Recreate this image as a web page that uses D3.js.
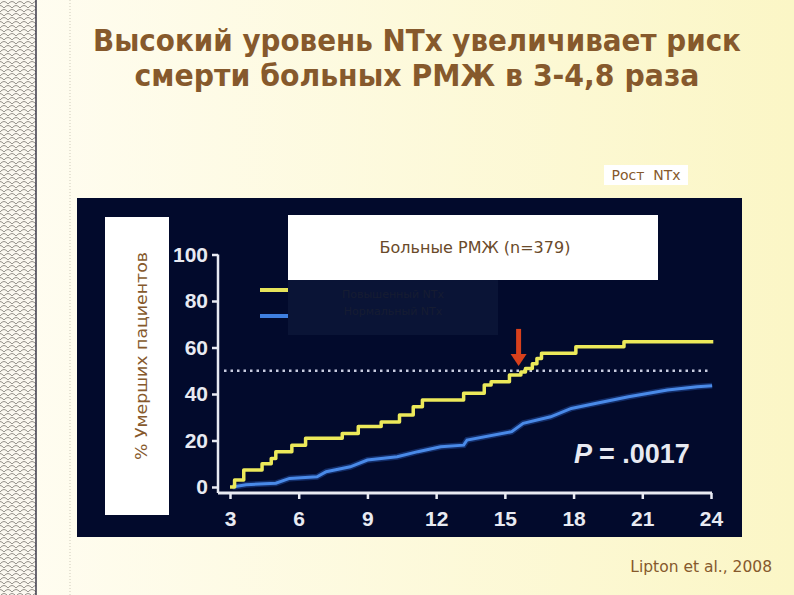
<!DOCTYPE html>
<html>
<head>
<meta charset="utf-8">
<script src="https://cdn.jsdelivr.net/npm/d3@7"></script>
<style>
  html, body { margin: 0; padding: 0; background: #fdfae0; }
  #canvas { width: 794px; height: 595px; }
</style>
</head>
<body>
<div id="canvas"></div>
<script>
// chart values
var titleLines = ['Высокий уровень NTx увеличивает риск', 'смерти больных РМЖ в 3-4,8 раза'];
var yLabel = '% Умерших пациентов';
var boxTitle = 'Больные РМЖ (n=379)';
var legendLabels = ['Повышенный NTx', 'Нормальный NTx'];
var xTicks = [3, 6, 9, 12, 15, 18, 21, 24];
var yTicks = [0, 20, 40, 60, 80, 100];

// high NTx (step curve)
var highMonths = [3.0, 3.2, 3.6, 4.4, 4.8, 5.0, 5.7, 6.3, 7.9, 8.6, 9.6, 10.4, 11.0, 11.4, 13.2, 14.1, 14.4, 15.2, 15.7, 15.9, 16.2, 16.4, 16.6, 18.1, 20.2, 24.1];
var highPct = [0, 3, 7.3, 10, 12.3, 15.2, 18, 21, 23, 26, 28, 31, 34.5, 37.4, 40.3, 43.9, 45.3, 48.2, 49.5, 51, 53, 55.3, 57.5, 60.3, 62.5, 62.5];

// normal NTx
var lowMonths = [3.1, 3.7, 5.0, 5.6, 6.8, 7.2, 8.25, 9.0, 10.3, 11.2, 12.2, 13.2, 13.35, 15.3, 15.8, 17.0, 17.9, 19.0, 20.4, 22.1, 23.4, 24.05];
var lowPct = [0, 1, 1.6, 3.7, 4.4, 6.6, 8.7, 11.6, 13, 15.2, 17.3, 18, 20.2, 23.8, 27.4, 30.2, 33.8, 36, 38.8, 41.7, 43.1, 43.6];

var halfLine = 50;
var arrowMonth = 15.6, arrowFrom = 68, arrowTo = 52;
var pText = '= .0017';
var citation = 'Lipton et al., 2008';
var badge = 'Рост  NTx';

var W = 794, H = 595;
var brown = '#86592c';

var svg = d3.select('#canvas').append('svg')
  .attr('width', W)
  .attr('height', H);

var defs = svg.append('defs');
var grad = defs.append('linearGradient').attr('id', 'bg').attr('x1', 0).attr('x2', 1).attr('y1', 0).attr('y2', 0);
grad.append('stop').attr('offset', '0%').attr('stop-color', '#fffdf2');
grad.append('stop').attr('offset', '100%').attr('stop-color', '#fbf6c6');

// scalloped border pattern
var pat = defs.append('pattern').attr('id', 'scallop')
  .attr('patternUnits', 'userSpaceOnUse').attr('width', 8).attr('height', 8);
pat.append('rect').attr('width', 8).attr('height', 8).attr('fill', '#fbf8f0');
pat.append('path').attr('d', 'M0,4 Q4,-1 8,4 M-4,8 Q0,3 4,8 M4,8 Q8,3 12,8')
  .attr('fill', 'none').attr('stroke', '#8a8680').attr('stroke-width', 0.9);

svg.append('rect').attr('width', W).attr('height', H).attr('fill', 'url(#bg)');
svg.append('rect').attr('width', 36).attr('height', H).attr('fill', 'url(#scallop)');
svg.append('line').attr('x1', 36).attr('x2', 36).attr('y1', 0).attr('y2', H)
  .attr('stroke', '#3b3a4a').attr('stroke-width', 1.5);
svg.append('line').attr('x1', 70).attr('x2', 70).attr('y1', 0).attr('y2', H)
  .attr('stroke', '#cfcbbb').attr('stroke-width', 1).attr('stroke-dasharray', '1,2');

// title
svg.selectAll('text.title').data(titleLines).enter().append('text')
  .attr('class', 'title')
  .attr('x', 417)
  .attr('y', function (d, i) { return 51 + i * 35; })
  .attr('text-anchor', 'middle')
  .attr('textLength', function (d, i) { return i === 0 ? 648 : 565; })
  .attr('lengthAdjust', 'spacingAndGlyphs')
  .attr('font-family', 'DejaVu Sans')
  .attr('font-weight', 'bold')
  .attr('font-size', 30)
  .attr('fill', brown)
  .text(function (d) { return d; });

// badge
svg.append('rect').attr('x', 604).attr('y', 165).attr('width', 84).attr('height', 20).attr('fill', '#ffffff');
svg.append('text').attr('x', 646).attr('y', 180).attr('text-anchor', 'middle')
  .attr('font-family', 'DejaVu Sans').attr('font-size', 14).attr('fill', brown)
  .attr('xml:space', 'preserve').text(badge);

// dark panel
svg.append('rect').attr('x', 77).attr('y', 198).attr('width', 665).attr('height', 339).attr('fill', '#020a2c');

// y label box
svg.append('rect').attr('x', 105).attr('y', 217).attr('width', 64).attr('height', 298).attr('fill', '#ffffff');
svg.append('text')
  .attr('transform', 'translate(147,356) rotate(-90)')
  .attr('text-anchor', 'middle')
  .attr('textLength', 208)
  .attr('lengthAdjust', 'spacingAndGlyphs')
  .attr('font-family', 'DejaVu Sans').attr('font-size', 15).attr('fill', brown)
  .text(yLabel);

// title box + legend box
svg.append('rect').attr('x', 288).attr('y', 215).attr('width', 370).attr('height', 65).attr('fill', '#ffffff');
svg.append('text').attr('x', 475).attr('y', 253).attr('text-anchor', 'middle')
  .attr('font-family', 'DejaVu Sans').attr('font-size', 16).attr('fill', '#6a4a2a')
  .text(boxTitle);
svg.append('rect').attr('x', 288).attr('y', 280).attr('width', 210).attr('height', 55).attr('fill', '#0a1436');

var x = d3.scaleLinear().domain([3, 24]).range([230, 711]);
var y = d3.scaleLinear().domain([0, 100]).range([487, 254.5]);

var axisFont = '"Liberation Sans Narrow", "Liberation Sans", Arial, sans-serif';
var xAxisY = 493, yAxisX = 218;

var gx = svg.append('g').attr('transform', 'translate(0,' + xAxisY + ')')
  .call(d3.axisBottom(x).tickValues(xTicks).tickSize(6).tickSizeOuter(0).tickPadding(12));
var gy = svg.append('g').attr('transform', 'translate(' + yAxisX + ',0)')
  .call(d3.axisLeft(y).tickValues(yTicks).tickSize(6).tickSizeOuter(0).tickPadding(4));
[gx, gy].forEach(function (g) {
  g.select('.domain').remove();
  g.selectAll('.tick line').attr('stroke', '#e8eaf2').attr('stroke-width', 2.5);
  g.selectAll('.tick text').attr('fill', '#e8eaf2').attr('font-family', axisFont)
    .attr('font-weight', 'bold').attr('font-size', 21);
});

// axis lines
svg.append('line').attr('x1', yAxisX).attr('x2', yAxisX).attr('y1', y(100)).attr('y2', xAxisY)
  .attr('stroke', '#e8eaf2').attr('stroke-width', 2.5);
svg.append('line').attr('x1', yAxisX).attr('x2', x(24) + 1).attr('y1', xAxisY).attr('y2', xAxisY)
  .attr('stroke', '#e8eaf2').attr('stroke-width', 3);

// 50% dotted reference
svg.append('line').attr('x1', yAxisX + 6).attr('x2', x(24)).attr('y1', y(halfLine)).attr('y2', y(halfLine))
  .attr('stroke', '#c8cce0').attr('stroke-width', 2.5).attr('stroke-dasharray', '2.5,4');

// legend lines
var legColors = ['#e6e35a', '#3f7fe0'];
svg.selectAll('line.leg').data(legendLabels).enter().append('line')
  .attr('class', 'leg')
  .attr('x1', 260).attr('x2', 288)
  .attr('y1', function (d, i) { return 290 + i * 26; })
  .attr('y2', function (d, i) { return 290 + i * 26; })
  .attr('stroke', function (d, i) { return legColors[i]; })
  .attr('stroke-width', 4);
svg.selectAll('text.leg').data(legendLabels).enter().append('text')
  .attr('class', 'leg')
  .attr('x', 393).attr('y', function (d, i) { return 298 + i * 17; })
  .attr('text-anchor', 'middle')
  .attr('font-family', 'DejaVu Sans').attr('font-size', 11)
  .attr('fill', '#161c32')
  .text(function (d) { return d; });

// curves
var lowData = lowMonths.map(function (m, i) { return [m, lowPct[i]]; });
var highData = highMonths.map(function (m, i) { return [m, highPct[i]]; });

var lowLine = d3.line().x(function (d) { return x(d[0]); }).y(function (d) { return y(d[1]); });
var highLine = d3.line().curve(d3.curveStepAfter)
  .x(function (d) { return x(d[0]); }).y(function (d) { return y(d[1]); });

svg.append('path').attr('d', lowLine(lowData)).attr('fill', 'none')
  .attr('stroke', '#2a5fc0').attr('stroke-width', 6).attr('stroke-opacity', 0.4);
svg.append('path').attr('d', lowLine(lowData)).attr('fill', 'none')
  .attr('stroke', '#4a8ae8').attr('stroke-width', 3);
svg.append('path').attr('d', highLine(highData)).attr('fill', 'none')
  .attr('stroke', '#ece95a').attr('stroke-width', 3.5).attr('stroke-linejoin', 'round');

// red arrow
var ax = x(arrowMonth);
svg.append('line').attr('x1', ax).attr('x2', ax).attr('y1', y(arrowFrom)).attr('y2', y(arrowTo) - 10)
  .attr('stroke', '#d8401c').attr('stroke-width', 5);
svg.append('path')
  .attr('d', 'M' + (ax - 8) + ',' + (y(arrowTo) - 12) + ' L' + (ax + 8) + ',' + (y(arrowTo) - 12) + ' L' + ax + ',' + y(arrowTo) + ' Z')
  .attr('fill', '#d8401c');

// p value
var pt = svg.append('text').attr('x', 574).attr('y', 463)
  .attr('font-family', '"Liberation Sans", Arial, sans-serif')
  .attr('font-weight', 'bold').attr('font-size', 27).attr('fill', '#e8eaf2');
pt.append('tspan').attr('font-style', 'italic').text('P');
pt.append('tspan').attr('dx', 7).text(pText);

// citation
svg.append('text').attr('x', 772).attr('y', 572).attr('text-anchor', 'end')
  .attr('font-family', 'DejaVu Sans').attr('font-size', 15.5).attr('fill', brown)
  .text(citation);
</script>
</body>
</html>
